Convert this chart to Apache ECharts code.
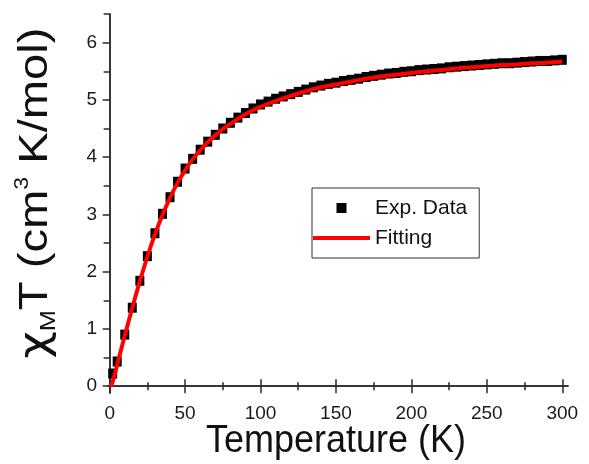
<!DOCTYPE html>
<html>
<head>
<meta charset="utf-8">
<script src="https://cdn.jsdelivr.net/npm/echarts@6/dist/echarts.min.js"></script>
<style>
  html, body { margin: 0; padding: 0; background: #fff; }
  #chart { width: 589px; height: 464px; }
</style>
</head>
<body>
<div id="chart"></div>
<script>
// Measured susceptibility product (cm3 K/mol) against temperature (K)
const expTemperature = [2, 5, 10, 15, 20, 25, 30, 35, 40, 45, 50, 55, 60, 65, 70, 75, 80, 85, 90, 95,
  100, 105, 110, 115, 120, 125, 130, 135, 140, 145, 150, 155, 160, 165, 170, 175, 180, 185, 190, 195,
  200, 205, 210, 215, 220, 225, 230, 235, 240, 245, 250, 255, 260, 265, 270, 275, 280, 285, 290, 295, 300];
const expChiT = [0.22, 0.43, 0.90, 1.37, 1.84, 2.27, 2.67, 3.01, 3.30, 3.57, 3.80, 3.97, 4.13, 4.27, 4.39, 4.50, 4.60, 4.69, 4.77, 4.85,
  4.92, 4.97, 5.02, 5.06, 5.10, 5.14, 5.18, 5.22, 5.25, 5.28, 5.30, 5.33, 5.35, 5.37, 5.40, 5.42, 5.44, 5.46, 5.47, 5.49,
  5.50, 5.52, 5.53, 5.54, 5.55, 5.57, 5.58, 5.59, 5.60, 5.61, 5.62, 5.63, 5.64, 5.64, 5.65, 5.66, 5.67, 5.68, 5.68, 5.69, 5.70];

// Fitted curve
const fitTemperature = [0, 1, 2, 3, 4, 5, 7.5, 10, 15, 20, 25, 30, 35, 40, 45, 50, 55, 60, 65, 70, 75, 80, 85, 90, 95,
  100, 110, 120, 130, 140, 150, 160, 170, 180, 190, 200, 210, 220, 230, 240, 250, 260, 270, 280, 290, 300];
const fitChiT = [0, 0.02, 0.08, 0.17, 0.27, 0.37, 0.63, 0.88, 1.37, 1.83, 2.26, 2.65, 2.99, 3.29, 3.55, 3.77, 3.96, 4.12, 4.26, 4.38, 4.49, 4.58, 4.67, 4.75, 4.82,
  4.88, 4.98, 5.07, 5.15, 5.22, 5.27, 5.32, 5.37, 5.41, 5.44, 5.47, 5.50, 5.52, 5.55, 5.57, 5.59, 5.61, 5.62, 5.64, 5.65, 5.67];

// Axis ticks
const xMajorTicks = [0, 50, 100, 150, 200, 250, 300];
const xMinorTicks = [25, 75, 125, 175, 225, 275];
const yMajorTicks = [0, 1, 2, 3, 4, 5, 6];
const yMinorTicks = [0.5, 1.5, 2.5, 3.5, 4.5, 5.5, 6.5];

const X_MIN = -1.1, X_MAX = 303.8;
const Y_MIN = -0.12, Y_MAX = 6.5;

const FONT = '"Liberation Sans", Arial, sans-serif';
const AXIS_COLOR = '#2a2a2a';
const lineStyle = { color: AXIS_COLOR, width: 1.5 };

function xAxisDef(position, ticks, len, inside, showLine, showLabel) {
  return {
    type: 'value', position: position, min: X_MIN, max: X_MAX,
    axisLine: { show: showLine, lineStyle: lineStyle },
    axisTick: { show: true, inside: inside, length: len, customValues: ticks, lineStyle: lineStyle },
    axisLabel: showLabel ? { show: true, customValues: ticks, margin: 11, fontSize: 19, fontFamily: FONT, color: '#1a1a1a' } : { show: false },
    splitLine: { show: false }
  };
}
function yAxisDef(position, ticks, len, inside, showLine, showLabel) {
  return {
    type: 'value', position: position, min: Y_MIN, max: Y_MAX,
    axisLine: { show: showLine, lineStyle: lineStyle },
    axisTick: { show: true, inside: inside, length: len, customValues: ticks, lineStyle: lineStyle },
    axisLabel: showLabel ? { show: true, customValues: ticks, margin: 11, fontSize: 19, fontFamily: FONT, color: '#1a1a1a' } : { show: false },
    splitLine: { show: false }
  };
}

const chart = echarts.init(document.getElementById('chart'), null, { renderer: 'canvas' });

chart.setOption({
  backgroundColor: '#ffffff',
  animation: false,
  grid: { left: 108, right: 21, top: 14, bottom: 71, containLabel: false },
  xAxis: [
    xAxisDef('bottom', xMajorTicks, 7, true, true, true),
    xAxisDef('bottom', xMinorTicks, 4, true, false, false),
    xAxisDef('top', xMajorTicks, 7, true, true, false),
    xAxisDef('top', xMinorTicks, 4, true, false, false)
  ],
  yAxis: [
    yAxisDef('left', yMajorTicks, 7, false, true, true),
    yAxisDef('left', yMinorTicks, 4, false, false, false),
    yAxisDef('right', yMajorTicks, 7, true, true, false),
    yAxisDef('right', yMinorTicks, 6, true, false, false)
  ],
  legend: {
    orient: 'vertical',
    left: 312, top: 188,
    padding: [8, 12, 8, 1],
    itemWidth: 57, itemHeight: 10, itemGap: 6,
    borderColor: '#333', borderWidth: 1,
    textStyle: { fontSize: 21, lineHeight: 24, fontFamily: FONT, color: '#111' },
    data: [
      { name: 'Exp. Data', icon: 'path://M0,0H10V10H0Z' },
      { name: 'Fitting', icon: 'path://M0,0H57V4H0Z' }
    ]
  },
  graphic: [
    {
      type: 'text', x: 336, y: 441, scaleY: 1.1,
      style: {
        text: 'Temperature (K)',
        font: '36px ' + FONT, fill: '#111',
        textAlign: 'center', textVerticalAlign: 'middle'
      }
    },
    {
      type: 'text', x: 36, y: 193, rotation: Math.PI / 2, scaleX: 1.15,
      style: {
        text: '{g|χ}{b|M}{a|T (cm}{c|3}{a| K/mol)}',
        fill: '#111',
        textAlign: 'center', textVerticalAlign: 'middle',
        rich: {
          a: { fontSize: 41, lineHeight: 48, fontFamily: FONT, verticalAlign: 'middle', fill: '#111' },
          g: { fontSize: 41, lineHeight: 48, fontFamily: '"DejaVu Sans", sans-serif', verticalAlign: 'middle', fill: '#111' },
          b: { fontSize: 22, lineHeight: 22, fontFamily: FONT, verticalAlign: 'bottom', fill: '#111' },
          c: { fontSize: 20, lineHeight: 32, fontFamily: FONT, verticalAlign: 'top', fill: '#111' }
        }
      }
    }
  ],
  series: [
    {
      name: 'Exp. Data', type: 'scatter', xAxisIndex: 0, yAxisIndex: 0,
      symbol: 'rect', symbolSize: [9, 10],
      itemStyle: { color: '#000', opacity: 1 },
      data: expTemperature.map((t, i) => [t, expChiT[i]]),
      z: 2
    },
    {
      name: 'Fitting', type: 'line', xAxisIndex: 0, yAxisIndex: 0,
      smooth: 0.3, showSymbol: false, symbol: 'none',
      lineStyle: { color: '#ff0000', width: 4 },
      itemStyle: { color: '#ff0000' },
      data: fitTemperature.map((t, i) => [t, fitChiT[i]]),
      z: 3
    }
  ]
});
</script>
</body>
</html>
